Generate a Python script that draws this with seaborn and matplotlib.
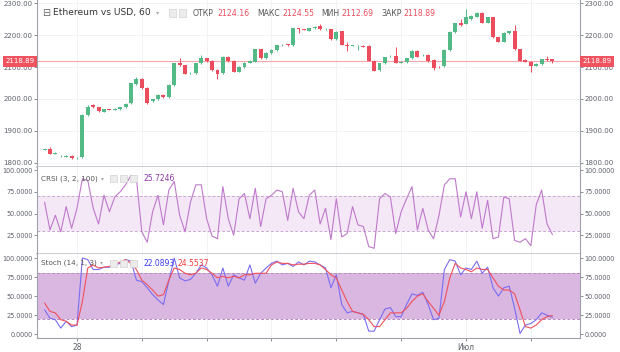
import seaborn as sns
import matplotlib.pyplot as plt
import matplotlib.patches as mpatches
import matplotlib.transforms as mtrans
import numpy as np

# ETH/USD 60 min candles
opens = [1840, 1843, 1828, 1820, 1819, 1822, 1814, 1817, 1950, 1981,
         1974, 1960, 1967, 1966, 1968, 1974, 1986, 2047, 2063, 2034,
         1992, 1999, 2013, 2005, 2044, 2112, 2106, 2081, 2081, 2112,
         2128, 2119, 2091, 2081, 2133, 2119, 2086, 2100, 2114, 2117,
         2156, 2128, 2144, 2154, 2169, 2172, 2168, 2222, 2219, 2215,
         2222, 2230, 2219, 2219, 2188, 2212, 2170, 2167, 2166, 2166,
         2167, 2120, 2091, 2112, 2134, 2135, 2114, 2115, 2128, 2152,
         2137, 2138, 2123, 2101, 2102, 2154, 2210, 2240, 2236, 2251,
         2259, 2271, 2240, 2257, 2194, 2180, 2207, 2212, 2156, 2123,
         2117, 2105, 2110, 2125, 2124.16]
closes = [1841, 1828, 1830, 1821, 1822, 1814, 1815, 1950, 1976, 1974,
          1963, 1967, 1966, 1968, 1974, 1984, 2049, 2063, 2034, 1988,
          1999, 2013, 2005, 2044, 2112, 2106, 2079, 2082, 2112, 2130,
          2119, 2091, 2079, 2133, 2119, 2086, 2100, 2114, 2119, 2156,
          2128, 2144, 2154, 2168, 2171, 2168, 2222, 2219, 2218, 2222,
          2227, 2219, 2220, 2188, 2210, 2170, 2166, 2168, 2167, 2164,
          2120, 2089, 2112, 2131, 2136, 2114, 2116, 2128, 2152, 2133,
          2139, 2119, 2096, 2100, 2154, 2210, 2238, 2233, 2259, 2261,
          2271, 2240, 2257, 2194, 2180, 2207, 2212, 2156, 2120, 2117,
          2102, 2110, 2125, 2122, 2118.89]
highs = [1843, 1848, 1832, 1823, 1824, 1824, 1817, 1952, 1980, 1984,
         1976, 1969, 1969, 1970, 1976, 1986, 2051, 2070, 2065, 2036,
         2001, 2015, 2015, 2046, 2114, 2128, 2108, 2084, 2114, 2138,
         2130, 2121, 2093, 2135, 2135, 2121, 2102, 2116, 2121, 2158,
         2158, 2146, 2156, 2170, 2174, 2174, 2224, 2224, 2221, 2224,
         2229, 2234, 2222, 2221, 2212, 2214, 2180, 2170, 2169, 2168,
         2169, 2122, 2114, 2133, 2138, 2164, 2118, 2130, 2154, 2154,
         2141, 2140, 2125, 2104, 2156, 2212, 2240, 2250, 2283, 2263,
         2273, 2273, 2259, 2259, 2196, 2209, 2214, 2233, 2158, 2125,
         2119, 2112, 2127, 2135, 2124.55]
lows = [1838, 1826, 1826, 1817, 1817, 1812, 1812, 1815, 1946, 1970,
        1958, 1958, 1964, 1964, 1966, 1972, 1984, 2045, 2030, 1984,
        1990, 1997, 2003, 2003, 2042, 2104, 2077, 2079, 2079, 2110,
        2117, 2089, 2062, 2079, 2117, 2084, 2084, 2098, 2112, 2115,
        2126, 2126, 2142, 2152, 2167, 2166, 2166, 2207, 2216, 2213,
        2220, 2217, 2217, 2186, 2186, 2168, 2150, 2165, 2155, 2162,
        2118, 2087, 2089, 2110, 2132, 2112, 2112, 2113, 2126, 2131,
        2135, 2117, 2090, 2098, 2100, 2152, 2208, 2228, 2234, 2249,
        2257, 2238, 2238, 2192, 2178, 2178, 2205, 2154, 2118, 2115,
        2085, 2103, 2108, 2120, 2112.69]

crsi = [63, 31, 48, 29, 58, 33, 56, 90, 88, 56,
        38, 71, 52, 69, 75, 83, 94, 90, 29, 17,
        52, 71, 37, 77, 87, 48, 29, 63, 83, 83,
        44, 24, 21, 81, 44, 25, 67, 73, 44, 79,
        35, 67, 71, 77, 75, 42, 79, 52, 44, 71,
        77, 38, 56, 20, 67, 23, 27, 58, 37, 35,
        12, 10, 67, 73, 69, 27, 52, 67, 81, 31,
        56, 31, 21, 48, 83, 90, 90, 46, 75, 44,
        75, 33, 65, 21, 23, 69, 67, 19, 17, 21,
        13, 60, 77, 38, 25.7246]

stoch_k = [32, 21, 19, 8, 17, 10, 12, 100, 98, 85,
           85, 88, 88, 91, 93, 98, 96, 71, 69, 61,
           52, 45, 39, 70, 100, 74, 70, 72, 80, 91,
           87, 78, 63, 87, 63, 78, 74, 71, 91, 67,
           80, 87, 93, 96, 91, 93, 89, 95, 91, 96,
           95, 91, 87, 61, 78, 39, 28, 30, 28, 26,
           4, 4, 19, 33, 35, 23, 23, 39, 53, 51,
           55, 39, 19, 21, 85, 98, 96, 78, 87, 85,
           96, 80, 88, 61, 50, 61, 63, 34, 1, 12,
           14, 19, 28, 25, 22.0893]
stoch_d = [41, 30, 28, 19, 17, 12, 12, 43, 87, 91,
           87, 88, 89, 91, 95, 98, 93, 85, 71, 65,
           58, 50, 52, 71, 87, 85, 80, 78, 80, 87,
           85, 80, 74, 76, 74, 76, 74, 78, 78, 80,
           80, 80, 91, 95, 93, 93, 91, 92, 92, 93,
           93, 91, 85, 78, 74, 58, 43, 30, 28, 26,
           19, 10, 10, 19, 28, 28, 28, 34, 43, 50,
           53, 43, 34, 25, 43, 74, 93, 87, 85, 82,
           87, 85, 85, 74, 63, 58, 58, 53, 32, 10,
           8, 12, 19, 23, 24.5537]

last_price = 2118.89
price_ticks = [1800, 1900, 2000, 2100, 2200, 2300]
crsi_ticks = [25, 50, 75, 100]
stoch_ticks = [0, 25, 50, 75, 100]
time_ticks = [6, 18, 30, 42, 54, 66, 78, 90]
time_labels = ["28", "", "", "", "", "", "Июл", ""]

UP = "#53b987"
DOWN = "#eb4d5c"
GRID = "#f0f1f5"
AXC = "#9ea2ab"
TXT = "#5d606b"

sns.set_theme(style="white")
plt.rcParams['font.family'] = ['DejaVu Sans']

fig = plt.figure(figsize=(6.2, 3.52), dpi=100)
L, W = 37 / 620, 543 / 620


def panel(y0, y1):
    return fig.add_axes([L, 1 - y1 / 352, W, (y1 - y0) / 352])


ax_p = panel(0, 167)
ax_c = panel(167, 253.5)
ax_s = panel(253.5, 338)

idx = np.arange(len(opens))
o = np.array(opens)
c = np.array(closes)
cols = [UP if cc >= oo else DOWN for oo, cc in zip(o, c)]

# --- candles ---
ax_p.vlines(idx, lows, highs, colors=cols, lw=0.7, zorder=3)
body = np.maximum(np.abs(c - o), 1.5)
ax_p.bar(idx, body, bottom=np.minimum(o, c), width=0.72, color=cols,
         linewidth=0, zorder=4)
ax_p.axhline(last_price, color="#f5a6ac", lw=0.8, zorder=2)
ax_p.set_ylim(1786, 2311)
ax_p.set_yticks(price_ticks)
ax_p.set_yticklabels([f"{t:.2f}" for t in price_ticks])
ax_p.grid(True, color=GRID, lw=0.6)

# red last price labels on both scales
for xa, ha in [(1.004, "left"), (-0.004, "right")]:
    ax_p.text(xa, last_price, f"{last_price:.2f}", ha=ha, va="center",
              fontsize=5, color="white", zorder=10, clip_on=False,
              transform=mtrans.blended_transform_factory(ax_p.transAxes, ax_p.transData),
              bbox=dict(boxstyle="square,pad=0.35", fc="#ef5360", ec="none"))

# --- CRSI ---
ax_c.axhspan(30, 70, color="#f4e8f6", zorder=1, lw=0)
for lvl in (30, 70):
    ax_c.axhline(lvl, color="#c9a8d1", lw=0.7, ls=(0, (3, 2)), zorder=1.5)
sns.lineplot(x=idx, y=crsi, ax=ax_c, color="#bf78cc", lw=0.8, zorder=3)
ax_c.set_ylim(4, 103.5)
ax_c.set_yticks(crsi_ticks)
ax_c.set_yticklabels([f"{t:.4f}" for t in crsi_ticks])
ax_c.grid(True, axis="x", color=GRID, lw=0.6)

# --- Stoch ---
ax_s.axhspan(20, 80, color="#d9b7e0", zorder=1, lw=0)
for lvl in (20, 80):
    ax_s.axhline(lvl, color="#b48cbf", lw=0.7, ls=(0, (3, 2)), zorder=1.5)
sns.lineplot(x=idx, y=stoch_k, ax=ax_s, color="#7a6cf2", lw=0.8, zorder=3)
sns.lineplot(x=idx, y=stoch_d, ax=ax_s, color="#f0505c", lw=0.8, zorder=3)
ax_s.set_ylim(-5, 106)
ax_s.set_yticks(stoch_ticks)
ax_s.set_yticklabels([f"{t:.4f}" for t in stoch_ticks])
ax_s.grid(True, axis="x", color=GRID, lw=0.6)

for ax, fs in ((ax_p, 5), (ax_c, 4.7), (ax_s, 4.7)):
    ax.set_xlim(-1.4, 99.1)
    ax.set_xticks(time_ticks)
    ax.set_ylabel("")
    ax.set_facecolor("white")
    ax.tick_params(axis="y", labelleft=True, labelright=True, left=True, right=True,
                   labelsize=fs, colors=TXT, length=2, width=0.5, pad=1.2)
    ax.tick_params(axis="x", bottom=False, labelbottom=False)
    for s in ("left", "right"):
        ax.spines[s].set_color(AXC)
        ax.spines[s].set_linewidth(0.8)
    ax.spines["top"].set_visible(False)
    ax.spines["bottom"].set_color("#c3c6cd")
    ax.spines["bottom"].set_linewidth(1.2)
    ax.set_axisbelow(True)

ax_s.spines["bottom"].set_color(AXC)
ax_s.spines["bottom"].set_linewidth(0.8)
ax_s.set_xticklabels(time_labels)
ax_s.tick_params(axis="x", bottom=True, labelbottom=True, labelsize=5.5,
                 colors=TXT, length=2, width=0.5, pad=1.5)

# --- legend-style headers ---
def ftext(x, y, s, **kw):
    fig.text(x / 620, 1 - y / 352, s, va="center", ha="left", **kw)


def icon(x, y):
    fig.patches.append(mpatches.Rectangle((x / 620, 1 - (y + 3.5) / 352), 7 / 620, 7 / 352,
                                          transform=fig.transFigure, fc="#ececec",
                                          ec="#d2d2d2", lw=0.5))


ftext(42, 12.5, "⊟", fontsize=7, color="#666666")
ftext(53, 13, "Ethereum vs USD, 60", fontsize=6.6, color="#333333")
ftext(156, 13, "▾", fontsize=4.5, color="#aaaaaa")
icon(169, 13)
icon(179, 13)
for x, s, col in [(193, "ОТКР", "#555555"), (217, "2124.16", DOWN),
                  (257, "МАКС", "#555555"), (282, "2124.55", DOWN),
                  (321, "МИН", "#555555"), (341, "2112.69", DOWN),
                  (381, "ЗАКР", "#555555"), (403, "2118.89", DOWN)]:
    ftext(x, 13, s, fontsize=5.6, color=col)

ftext(41, 178.5, "CRSI (3, 2, 100)", fontsize=5.2, color="#555555")
ftext(101, 178.5, "▾", fontsize=4.2, color="#aaaaaa")
for x in (110, 120, 130):
    icon(x, 178.5)
ftext(143, 178.5, "25.7246", fontsize=5.5, color="#8e3aa0")

ftext(41, 263, "Stoch (14, 1, 3)", fontsize=5.2, color="#555555")
ftext(100, 263, "▾", fontsize=4.2, color="#aaaaaa")
for x in (110, 120, 130):
    icon(x, 263)
ftext(143, 263, "22.0893", fontsize=5.5, color="#3b3bf0")
ftext(177, 263, "24.5537", fontsize=5.5, color="#f03a3a")

fig.savefig("out.png", dpi=100)
